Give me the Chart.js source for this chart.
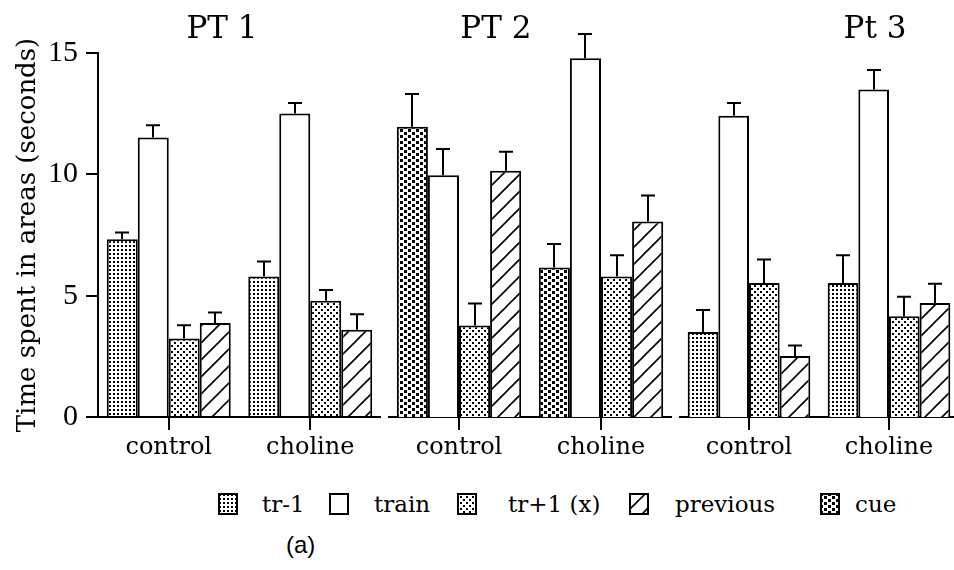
<!DOCTYPE html>
<html><head><meta charset="utf-8">
<script src="https://cdn.jsdelivr.net/npm/chart.js@4/dist/chart.umd.min.js"></script>
<style>
html,body{margin:0;padding:0;background:#fff;width:954px;height:570px;overflow:hidden;position:relative}
canvas.panel{position:absolute;top:0}
.lgt{position:absolute;font-family:'DejaVu Serif';font-size:23px;line-height:23px;color:#000;white-space:nowrap}
.sw{position:absolute}
#cap{position:absolute;font-family:'Liberation Sans';font-size:24px;line-height:24px;color:#000}
</style></head><body>
<canvas class="panel" id="c1" width="381" height="470" style="left:0px"></canvas>
<canvas class="panel" id="c2" width="284" height="470" style="left:388px"></canvas>
<canvas class="panel" id="c3" width="280" height="470" style="left:679px"></canvas>
<div id="legend"></div>
<div id="cap">(a)</div>
<script>
// ---- data ----
const categories = ['control', 'choline'];
const yTicks = [0, 5, 10, 15];
const panelTitles = ['PT 1', 'PT 2', 'Pt 3'];
const legendLabels = ['tr-1', 'train', 'tr+1 (x)', 'previous', 'cue'];

const pt1TrMinus1 = [7.33, 5.79];   const pt1TrMinus1Err = [0.27, 0.62];
const pt1Train    = [11.52, 12.51]; const pt1TrainErr    = [0.50, 0.43];
const pt1TrPlus1  = [3.23, 4.79];   const pt1TrPlus1Err  = [0.55, 0.44];
const pt1Previous = [3.87, 3.60];   const pt1PreviousErr = [0.44, 0.63];

const pt2Cue      = [11.96, 6.16];  const pt2CueErr      = [1.35, 0.97];
const pt2Train    = [9.96, 14.78];  const pt2TrainErr    = [1.08, 1.00];
const pt2TrPlus1  = [3.77, 5.79];   const pt2TrPlus1Err  = [0.91, 0.88];
const pt2Previous = [10.15, 8.06];  const pt2PreviousErr = [0.78, 1.07];

const pt3TrMinus1 = [3.50, 5.52];   const pt3TrMinus1Err = [0.91, 1.15];
const pt3Train    = [12.41, 13.50]; const pt3TrainErr    = [0.53, 0.80];
const pt3TrPlus1  = [5.52, 4.15];   const pt3TrPlus1Err  = [0.97, 0.81];
const pt3Previous = [2.51, 4.70];   const pt3PreviousErr = [0.44, 0.79];

// ---- patterns ----
function tile(w, h, draw) {
  const c = document.createElement('canvas'); c.width = w; c.height = h;
  const g = c.getContext('2d');
  g.fillStyle = '#fff'; g.fillRect(0, 0, w, h);
  g.fillStyle = '#000'; g.strokeStyle = '#000';
  draw(g, w, h); return c;
}
const pctx = document.createElement('canvas').getContext('2d');
const patTrMinus1 = pctx.createPattern(tile(4, 4, g => { g.fillRect(1, 1, 2, 2); }), 'repeat');
const patTrPlus1 = pctx.createPattern(tile(6, 6, g => { g.fillRect(0, 0, 2, 2); g.fillRect(3, 3, 2, 2); }), 'repeat');
const patCue = pctx.createPattern(tile(8, 6, g => { g.fillRect(0, 0, 3, 3); g.fillRect(4, 3, 3, 3); }), 'repeat');
const patPrev = pctx.createPattern(tile(17, 17, g => {
  g.lineWidth = 1.6; g.beginPath();
  g.moveTo(-1, 18); g.lineTo(18, -1);
  g.moveTo(-1, 1); g.lineTo(1, -1);
  g.moveTo(16, 18); g.lineTo(18, 16);
  g.stroke();
}), 'repeat');
const styles = {
  'tr-1': patTrMinus1, 'train': '#fff', 'tr+1 (x)': patTrPlus1, 'previous': patPrev, 'cue': patCue
};

// ---- error bar plugin ----
const errorBars = {
  id: 'errorBars',
  afterDatasetsDraw(chart) {
    const ctx = chart.ctx, ys = chart.scales.y;
    ctx.save(); ctx.strokeStyle = '#000'; ctx.lineWidth = 2;
    chart.data.datasets.forEach((ds, di) => {
      const meta = chart.getDatasetMeta(di);
      meta.data.forEach((bar, i) => {
        const top = ys.getPixelForValue(ds.data[i] + ds.errors[i]);
        const x = Math.round(bar.x);
        ctx.beginPath();
        ctx.moveTo(x, bar.y); ctx.lineTo(x, top);
        ctx.moveTo(x - 7, top); ctx.lineTo(x + 7, top);
        ctx.stroke();
      });
    });
    ctx.restore();
  }
};

// ---- panel title plugin (placed relative to the chart area) ----
const panelTitle = {
  id: 'panelTitle',
  afterDraw(chart, args, opts) {
    const ctx = chart.ctx, a = chart.chartArea;
    ctx.save();
    ctx.font = '31px "DejaVu Serif"'; ctx.fillStyle = '#000';
    ctx.textAlign = 'center'; ctx.textBaseline = 'alphabetic';
    ctx.fillText(opts.text, a.left + (a.right - a.left) * opts.pos, opts.baseline);
    ctx.restore();
  }
};

function ds(label, data, errors) {
  return {
    label, data, errors,
    backgroundColor: styles[label], borderColor: '#000', borderWidth: 2,
    categoryPercentage: 0.876, barPercentage: 1
  };
}

function makePanel(id, title, titlePos, datasets, showY) {
  new Chart(document.getElementById(id), {
    type: 'bar',
    data: { labels: categories, datasets },
    plugins: [errorBars, panelTitle],
    options: {
      responsive: false, animation: false, devicePixelRatio: 1,
      layout: { padding: { left: 0, right: 0, top: 53, bottom: 9 } },
      plugins: {
        legend: { display: false }, tooltip: { enabled: false }, title: { display: false },
        panelTitle: { text: title, pos: titlePos, baseline: 38 }
      },
      scales: {
        x: {
          offset: true,
          afterFit: s => { s.height = 44; },
          grid: { drawOnChartArea: false, drawTicks: true, tickLength: 13, offset: false, color: '#000', lineWidth: 2 },
          border: { display: true, color: '#000', width: 2 },
          ticks: { color: '#000', font: { family: 'DejaVu Serif', size: 24 }, padding: 3, maxRotation: 0 }
        },
        y: {
          display: showY, min: 0, max: 15,
          afterBuildTicks: s => { s.ticks = yTicks.map(v => ({ value: v })); },
          afterFit: s => { if (showY) s.width = 98; },
          grid: { drawOnChartArea: false, drawTicks: true, tickLength: 12, color: '#000', lineWidth: 2 },
          border: { display: true, color: '#000', width: 2 },
          ticks: { color: '#000', font: { family: 'Liberation Serif', size: 30 }, padding: 8 },
          title: {
            display: true, text: 'Time spent in areas (seconds)', color: '#000',
            font: { family: 'DejaVu Serif', size: 26 }, padding: { top: 13, bottom: 4 }
          }
        }
      }
    }
  });
}

makePanel('c1', panelTitles[0], 0.438, [
  ds('tr-1', pt1TrMinus1, pt1TrMinus1Err),
  ds('train', pt1Train, pt1TrainErr),
  ds('tr+1 (x)', pt1TrPlus1, pt1TrPlus1Err),
  ds('previous', pt1Previous, pt1PreviousErr)
], true);

makePanel('c2', panelTitles[1], 0.38, [
  ds('cue', pt2Cue, pt2CueErr),
  ds('train', pt2Train, pt2TrainErr),
  ds('tr+1 (x)', pt2TrPlus1, pt2TrPlus1Err),
  ds('previous', pt2Previous, pt2PreviousErr)
], false);

makePanel('c3', panelTitles[2], 0.70, [
  ds('tr-1', pt3TrMinus1, pt3TrMinus1Err),
  ds('train', pt3Train, pt3TrainErr),
  ds('tr+1 (x)', pt3TrPlus1, pt3TrPlus1Err),
  ds('previous', pt3Previous, pt3PreviousErr)
], false);

// ---- legend ----
const legendSwatchX = [218, 329, 457, 629, 820];
const legendTextX = [262, 374, 508, 675, 855];
const legend = document.getElementById('legend');
legendLabels.forEach((lab, i) => {
  const c = document.createElement('canvas');
  c.width = 20; c.height = 22; c.className = 'sw';
  c.style.left = legendSwatchX[i] + 'px'; c.style.top = '493px';
  const g = c.getContext('2d');
  g.fillStyle = styles[lab]; g.fillRect(0, 0, 20, 22);
  g.strokeStyle = '#000'; g.lineWidth = 2; g.strokeRect(1, 1, 18, 20);
  legend.appendChild(c);
  const t = document.createElement('div');
  t.className = 'lgt'; t.textContent = lab;
  t.style.left = legendTextX[i] + 'px'; t.style.top = '493px';
  legend.appendChild(t);
});
const cap = document.getElementById('cap');
cap.style.left = '286px'; cap.style.top = '533px';
</script>
</body></html>
